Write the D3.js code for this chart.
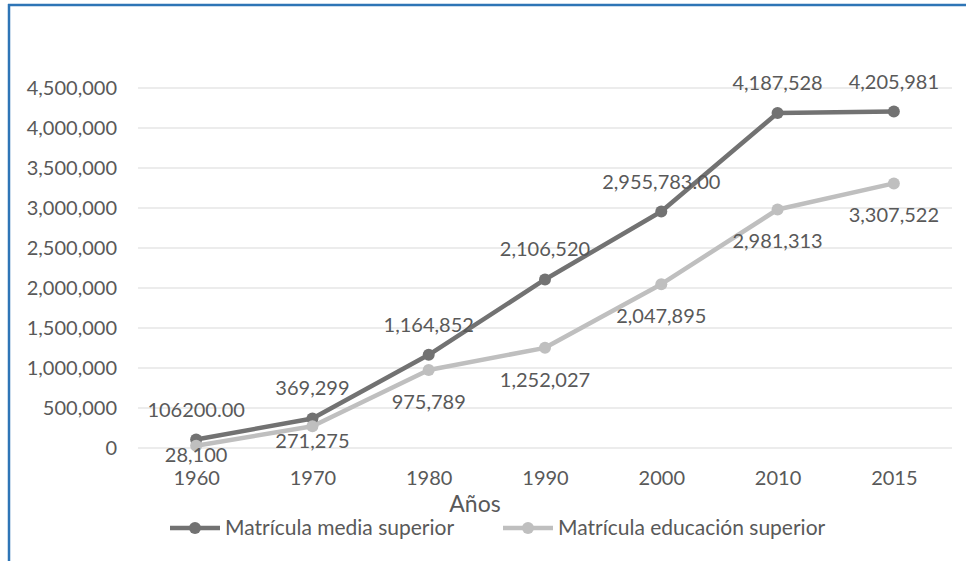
<!DOCTYPE html>
<html>
<head>
<meta charset="utf-8">
<script src="https://cdn.jsdelivr.net/npm/d3@7"></script>
<style>
  body { margin: 0; background: #fff; }
  svg text { font-family: Lato, "Open Sans", sans-serif; fill: #595959; }
</style>
</head>
<body>
<div id="chart"></div>
<script>
// data
const years = ["1960", "1970", "1980", "1990", "2000", "2010", "2015"];
const mediaSuperior = [106200, 369299, 1164852, 2106520, 2955783, 4187528, 4205981];
const mediaLabels = ["106200.00", "369,299", "1,164,852", "2,106,520", "2,955,783.00", "4,187,528", "4,205,981"];
const eduSuperior = [28100, 271275, 975789, 1252027, 2047895, 2981313, 3307522];
const eduLabels = ["28,100", "271,275", "975,789", "1,252,027", "2,047,895", "2,981,313", "3,307,522"];
const yTicks = [0, 500000, 1000000, 1500000, 2000000, 2500000, 3000000, 3500000, 4000000, 4500000];
const seriesNames = ["Matrícula media superior", "Matrícula educación superior"];

const W = 966, H = 561;
const margin = {top: 88, right: 14, bottom: 113, left: 138};
const width = W - margin.left - margin.right;
const height = H - margin.top - margin.bottom;

const colors = ["#727272", "#bfbfbf"];
const fontSize = 20;

const svg = d3.select("#chart").append("svg")
    .attr("width", W)
    .attr("height", H);

// blue frame (top + left only)
svg.append("line").attr("x1", 8).attr("x2", W).attr("y1", 5).attr("y2", 5)
    .attr("stroke", "#2e75b6").attr("stroke-width", 2.5);
svg.append("line").attr("x1", 9).attr("x2", 9).attr("y1", 4).attr("y2", H)
    .attr("stroke", "#2e75b6").attr("stroke-width", 2.5);

const g = svg.append("g").attr("transform", `translate(${margin.left},${margin.top})`);

const x = d3.scalePoint().domain(years).range([0, width]).padding(0.5);
const y = d3.scaleLinear().domain([0, 4500000]).range([height, 0]);

// gridlines
g.append("g").selectAll("line")
    .data(yTicks)
    .enter()
    .append("line")
    .attr("x1", 0).attr("x2", width)
    .attr("y1", d => y(d)).attr("y2", d => y(d))
    .attr("stroke", "#d9d9d9").attr("stroke-width", 1.2);

// y axis
const yAxis = d3.axisLeft(y).tickValues(yTicks).tickSize(0).tickPadding(21)
    .tickFormat(d3.format(","));
const yG = g.append("g").call(yAxis);
yG.select(".domain").remove();
yG.selectAll("text").style("font-size", fontSize + "px").attr("fill", "#595959");

// x axis
const xAxis = d3.axisBottom(x).tickSize(0).tickPadding(23);
const xG = g.append("g").attr("transform", `translate(0,${height})`).call(xAxis);
xG.select(".domain").remove();
xG.selectAll("text").style("font-size", fontSize + "px").attr("fill", "#595959");

// axis title
g.append("text")
    .attr("x", 337)
    .attr("y", height + 64)
    .attr("text-anchor", "middle")
    .style("font-size", "23px")
    .text("Años");

const series = [
    {name: seriesNames[0], values: mediaSuperior, labels: mediaLabels, color: colors[0], dy: -30},
    {name: seriesNames[1], values: eduSuperior, labels: eduLabels, color: colors[1], dy: 32}
];

// a few labels were dragged by hand in the original
const labelNudge = {"1-0": -23, "1-1": -17};

const line = d3.line().x((d, i) => x(years[i])).y(d => y(d));

series.forEach((s, si) => {
    g.append("path")
        .datum(s.values)
        .attr("fill", "none")
        .attr("stroke", s.color)
        .attr("stroke-width", 4.5)
        .attr("stroke-linejoin", "round")
        .attr("d", line);
});

series.forEach((s, si) => {
    g.append("g").selectAll("circle")
        .data(s.values)
        .enter()
        .append("circle")
        .attr("cx", (d, i) => x(years[i]))
        .attr("cy", d => y(d))
        .attr("r", 6)
        .attr("fill", s.color);
});

series.forEach((s, si) => {
    g.append("g").selectAll("text")
        .data(s.values)
        .enter()
        .append("text")
        .attr("x", (d, i) => x(years[i]))
        .attr("y", (d, i) => y(d) + s.dy + (labelNudge[si + "-" + i] || 0))
        .attr("dy", "0.35em")
        .attr("text-anchor", "middle")
        .style("font-size", fontSize + "px")
        .text((d, i) => s.labels[i]);
});

// legend
const legendX = [170, 503];
const legend = svg.append("g").attr("transform", "translate(0,528)");
series.forEach((s, si) => {
    const lg = legend.append("g").attr("transform", `translate(${legendX[si]},0)`);
    lg.append("line").attr("x1", 0).attr("x2", 50).attr("y1", 0).attr("y2", 0)
        .attr("stroke", s.color).attr("stroke-width", 4.5);
    lg.append("circle").attr("cx", 25).attr("cy", 0).attr("r", 6).attr("fill", s.color);
    lg.append("text").attr("x", 55).attr("dy", "0.35em")
        .style("font-size", "21px")
        .text(s.name);
});
</script>
</body>
</html>
